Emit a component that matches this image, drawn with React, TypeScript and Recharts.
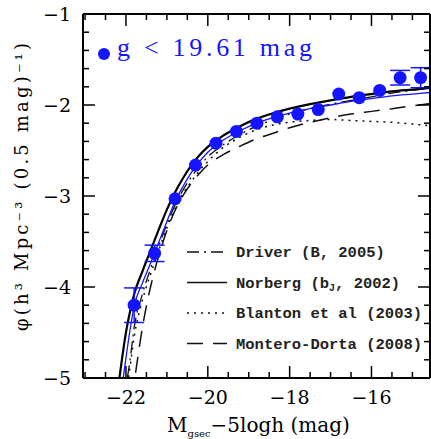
import React from 'react';
import { ComposedChart, Line, Scatter, XAxis, YAxis, ErrorBar } from 'recharts';

// Measured points (blue, g < 19.61 mag)
const pointMag = [-21.8, -21.3, -20.8, -20.3, -19.8, -19.3, -18.8, -18.3, -17.8, -17.3, -16.8, -16.3, -15.8, -15.3, -14.8];
const pointPhi = [-4.2, -3.63, -3.03, -2.66, -2.42, -2.29, -2.2, -2.13, -2.1, -2.05, -1.88, -1.92, -1.84, -1.7, -1.7];
const pointErr = [0.19, 0.09, 0, 0, 0, 0, 0, 0, 0, 0, 0, 0, 0, 0.08, 0.11];

// Curves, read at these magnitudes
const curveMag = [-22.3, -22.2, -22.1, -22.0, -21.9, -21.8, -21.6, -21.4, -21.2, -21.0, -20.8, -20.6, -20.4, -20.2, -20.0, -19.6, -19.2, -18.8, -18.4, -18.0, -17.5, -17.0, -16.5, -16.0, -15.5, -15.0, -14.5];
const fitPhi = [-6.0, -5.55, -5.12, -4.78, -4.47, -4.21, -3.96, -3.74, -3.51, -3.28, -3.06, -2.89, -2.74, -2.62, -2.52, -2.38, -2.28, -2.2, -2.14, -2.09, -2.04, -2.0, -1.96, -1.93, -1.9, -1.88, -1.86];
const norbergPhi = [-5.6, -5.15, -4.8, -4.5, -4.27, -4.08, -3.83, -3.6, -3.37, -3.15, -2.96, -2.8, -2.66, -2.55, -2.46, -2.33, -2.23, -2.15, -2.09, -2.04, -1.99, -1.95, -1.91, -1.88, -1.85, -1.83, -1.81];
const driverPhi = [-6.3, -5.85, -5.4, -5.1, -4.8, -4.45, -4.08, -3.8, -3.55, -3.31, -3.1, -2.93, -2.79, -2.67, -2.57, -2.43, -2.32, -2.23, -2.16, -2.1, -2.04, -1.99, -1.95, -1.91, -1.87, -1.84, -1.81];
const blantonPhi = [-6.6, -6.1, -5.6, -5.2, -4.88, -4.55, -4.15, -3.86, -3.6, -3.35, -3.14, -2.97, -2.84, -2.72, -2.62, -2.46, -2.35, -2.27, -2.22, -2.19, -2.17, -2.16, -2.17, -2.18, -2.19, -2.21, -2.23];
const monteroPhi = [-7.5, -6.9, -6.3, -5.8, -5.35, -5.05, -4.45, -4.0, -3.66, -3.38, -3.16, -2.99, -2.86, -2.75, -2.66, -2.54, -2.45, -2.37, -2.31, -2.25, -2.19, -2.14, -2.1, -2.07, -2.04, -2.01, -1.98];

// Ticks
const xTicks = [-23, -22.5, -22, -21.5, -21, -20.5, -20, -19.5, -19, -18.5, -18, -17.5, -17, -16.5, -16, -15.5, -15];
const xMajor = [-22, -20, -18, -16];
const yTicks = [-5, -4.8, -4.6, -4.4, -4.2, -4, -3.8, -3.6, -3.4, -3.2, -3, -2.8, -2.6, -2.4, -2.2, -2, -1.8, -1.6, -1.4, -1.2, -1];
const yMajor = [-5, -4, -3, -2, -1];

const points = pointMag.map((x, i) => ({ x, y: pointPhi[i], err: pointErr[i] }));
const toSeries = (vals: number[]) => curveMag.map((x, i) => ({ x, y: vals[i] }));
const fitData = toSeries(fitPhi);
const norbergData = toSeries(norbergPhi);
const driverData = toSeries(driverPhi);
const blantonData = toSeries(blantonPhi);
const monteroData = toSeries(monteroPhi);

const BLUE = '#1414ff';
const TICK_FONT = 'DejaVu Serif';
const isMajor = (list: number[], v: number) => list.some((m) => Math.abs(m - v) < 1e-6);
const fmt = (v: number) => (v < 0 ? '\u2212' + Math.abs(v) : String(v));

const BottomTick = (props: any) => {
  const { x, y, payload } = props;
  const major = isMajor(xMajor, payload.value);
  return (
    <g>
      <line x1={x} x2={x} y1={y} y2={y - (major ? 12 : 6)} stroke="#000" strokeWidth={1.5} />
      {major && (
        <text x={x} y={y + 26} textAnchor="middle" fontFamily={TICK_FONT} fontSize={19} fill="#000">
          {fmt(payload.value)}
        </text>
      )}
    </g>
  );
};
const TopTick = (props: any) => {
  const { x, y, payload } = props;
  const major = isMajor(xMajor, payload.value);
  return <line x1={x} x2={x} y1={y} y2={y + (major ? 12 : 6)} stroke="#000" strokeWidth={1.5} />;
};
const LeftTick = (props: any) => {
  const { x, y, payload } = props;
  const major = isMajor(yMajor, payload.value);
  return (
    <g>
      <line x1={x} x2={x + (major ? 12 : 6)} y1={y} y2={y} stroke="#000" strokeWidth={1.5} />
      {major && (
        <text x={x - 12} y={y + 7} textAnchor="end" fontFamily={TICK_FONT} fontSize={19} fill="#000">
          {fmt(payload.value)}
        </text>
      )}
    </g>
  );
};
const RightTick = (props: any) => {
  const { x, y, payload } = props;
  const major = isMajor(yMajor, payload.value);
  return <line x1={x} x2={x - (major ? 12 : 6)} y1={y} y2={y} stroke="#000" strokeWidth={1.5} />;
};

const Dot = (props: any) => <circle cx={props.cx} cy={props.cy} r={6.5} fill={BLUE} />;

const legendItems = [
  { key: 'driver', dash: '12 5 2 5' },
  { key: 'norberg', dash: '' },
  { key: 'blanton', dash: '2 5' },
  { key: 'montero', dash: '16 10' },
];

export default function App() {
  const legendFont = 'Liberation Mono';
  return (
    <div style={{ position: 'absolute', left: 0, top: 0, width: 431, height: 439, background: '#fff' }}>
      <ComposedChart width={431} height={439} margin={{ top: 0, right: 0, bottom: 0, left: 0 }}>
        <XAxis
          xAxisId={0}
          type="number"
          dataKey="x"
          domain={[-23.05, -14.57]}
          allowDataOverflow
          ticks={xTicks}
          interval={0}
          tickSize={0}
          tickMargin={0}
          height={61}
          tick={<BottomTick />}
          axisLine={{ stroke: '#000', strokeWidth: 2 }}
          tickLine={false}
        />
        <XAxis
          xAxisId="top"
          orientation="top"
          type="number"
          dataKey="x"
          domain={[-23.05, -14.57]}
          allowDataOverflow
          ticks={xTicks}
          interval={0}
          tickSize={0}
          tickMargin={0}
          height={14}
          tick={<TopTick />}
          axisLine={{ stroke: '#000', strokeWidth: 2 }}
          tickLine={false}
        />
        <YAxis
          yAxisId={0}
          type="number"
          domain={[-5, -1]}
          allowDataOverflow
          ticks={yTicks}
          interval={0}
          tickSize={0}
          tickMargin={0}
          width={83}
          tick={<LeftTick />}
          axisLine={{ stroke: '#000', strokeWidth: 2 }}
          tickLine={false}
        />
        <YAxis
          yAxisId="right"
          orientation="right"
          type="number"
          domain={[-5, -1]}
          allowDataOverflow
          ticks={yTicks}
          interval={0}
          tickSize={0}
          tickMargin={0}
          width={1}
          tick={<RightTick />}
          axisLine={{ stroke: '#000', strokeWidth: 2 }}
          tickLine={false}
        />
        <Line data={monteroData} dataKey="y" type="monotone" stroke="#111" strokeWidth={1.5} strokeDasharray="16 10" dot={false} isAnimationActive={false} />
        <Line data={blantonData} dataKey="y" type="monotone" stroke="#111" strokeWidth={1.5} strokeDasharray="2 5" dot={false} isAnimationActive={false} />
        <Line data={driverData} dataKey="y" type="monotone" stroke="#111" strokeWidth={1.3} strokeDasharray="12 5 2 5" dot={false} isAnimationActive={false} />
        <Line data={norbergData} dataKey="y" type="monotone" stroke="#000" strokeWidth={2.2} dot={false} isAnimationActive={false} />
        <Line data={fitData} dataKey="y" type="monotone" stroke={BLUE} strokeWidth={1.3} dot={false} isAnimationActive={false} />
        <Scatter data={points} dataKey="y" shape={<Dot />} isAnimationActive={false}>
          <ErrorBar dataKey="err" direction="y" width={10} stroke={BLUE} strokeWidth={1.5} />
        </Scatter>
      </ComposedChart>
      <svg width={431} height={439} style={{ position: 'absolute', left: 0, top: 0, pointerEvents: 'none' }}>
        <circle cx={104} cy={54} r={6} fill={BLUE} />
        <text x={117} y={56} fontFamily="Liberation Serif" fontSize={26} fill={BLUE} textLength={195} lengthAdjust="spacing">
          g &lt; 19.61 mag
        </text>
        <text
          transform="translate(28,187) rotate(-90)"
          textAnchor="middle"
          fontFamily="DejaVu Serif"
          fontSize={18}
          fill="#000"
          textLength={288}
          lengthAdjust="spacing"
        >
          {'\u03c6(h\u00b3 Mpc\u207b\u00b3 (0.5 mag)\u207b\u00b9)'}
        </text>
        <text x={167} y={432} fontFamily="DejaVu Serif" fontSize={20} fill="#000">
          M
          <tspan dy={5} fontSize={10}>gsec</tspan>
          <tspan dy={-5}>{'\u22125logh (mag)'}</tspan>
        </text>
        {legendItems.map((it, i) => {
          const cy = 252 + i * 30.5;
          return (
            <g key={it.key}>
              <line x1={187} x2={227} y1={cy} y2={cy} stroke="#111" strokeWidth={1.5} strokeDasharray={it.dash || undefined} />
              <text x={236} y={cy + 5} fontFamily={legendFont} fontWeight="bold" fontSize={15.5} fill="#222">
                {i === 0 && 'Driver (B, 2005)'}
                {i === 1 && (
                  <>
                    Norberg (b<tspan dy={3} fontSize={10}>J</tspan>
                    <tspan dy={-3}>, 2002)</tspan>
                  </>
                )}
                {i === 2 && 'Blanton et al (2003)'}
                {i === 3 && 'Montero-Dorta (2008)'}
              </text>
            </g>
          );
        })}
      </svg>
    </div>
  );
}
